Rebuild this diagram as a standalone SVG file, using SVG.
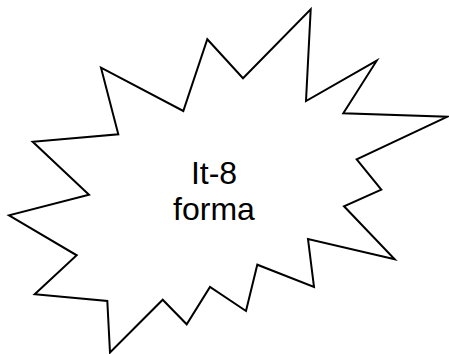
<svg xmlns="http://www.w3.org/2000/svg" width="449" height="354" viewBox="0 0 449 354">
<style>
.shape{fill:#ffffff;stroke:#000000;stroke-width:2;stroke-linejoin:miter;stroke-miterlimit:20}
.label{font-family:"Liberation Sans",Arial,sans-serif;font-size:32px;fill:#000000;text-anchor:middle}
</style>
<rect width="449" height="354" fill="#ffffff"/>
<g id="explosion">
<polygon class="shape" points="207.3,39.3 243,78.3 310.7,9.3 306,101 376.7,60.7 343.3,113.3 447.5,116.7 356.7,159.3 381.3,189.7 344,206.3 394.7,259.3 308,239 314,287 257.3,264.7 246,311 210,287 186.7,324.3 162.7,299.7 110,352.5 107.3,301 34.7,294.3 76.7,255.3 9,215.3 89,194.7 32.7,141.7 118.3,134.3 101,67.7 183.3,111"/>
<text class="label" x="214" y="183.5">It-8</text>
<text class="label" x="214" y="219.5">forma</text>
</g>
</svg>
